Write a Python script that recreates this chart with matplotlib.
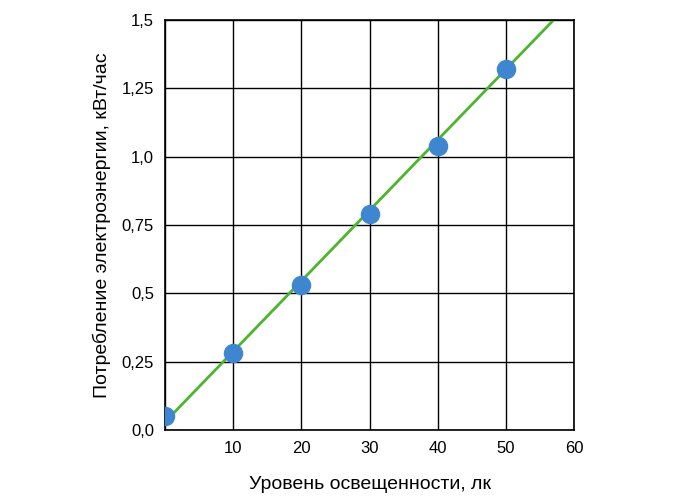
import matplotlib
matplotlib.use("Agg")
import matplotlib.pyplot as plt

plt.rcParams["font.family"] = ["Liberation Sans", "DejaVu Sans"]

# measured points
lux = [0, 10, 20, 30, 40, 50]
energy = [0.05, 0.28, 0.53, 0.79, 1.04, 1.32]

# trend line ends
line_x = [0, 57]
line_y = [0.03, 1.5]

x_ticks = [10, 20, 30, 40, 50, 60]
y_ticks = [0, 0.25, 0.5, 0.75, 1.0, 1.25, 1.5]
y_labels = ["0,0", "0,25", "0,5", "0,75", "1,0", "1,25", "1,5"]

fig = plt.figure(figsize=(7, 5), dpi=100)
ax = fig.add_axes([0.236, 0.14, 0.584, 0.82])

ax.plot(line_x, line_y, color="#4cb52e", lw=2, zorder=2)
ax.scatter(lux, energy, s=170, color="#3f86d1", zorder=3)

ax.set_xlim(0, 60)
ax.set_ylim(0, 1.5)
ax.set_xticks([0] + x_ticks)
ax.set_xticklabels([""] + [str(t) for t in x_ticks])
ax.set_yticks(y_ticks)
ax.set_yticklabels(y_labels)
ax.grid(True, color="black", lw=1)
for s in ax.spines.values():
    s.set_linewidth(1.2)
ax.tick_params(labelsize=12, length=0, pad=8)

ax.set_xlabel("Уровень освещенности, лк", fontsize=14, labelpad=14)
ax.set_ylabel("Потребление электроэнергии, кВт/час", fontsize=14, labelpad=8)

fig.savefig("out.png", dpi=100)
